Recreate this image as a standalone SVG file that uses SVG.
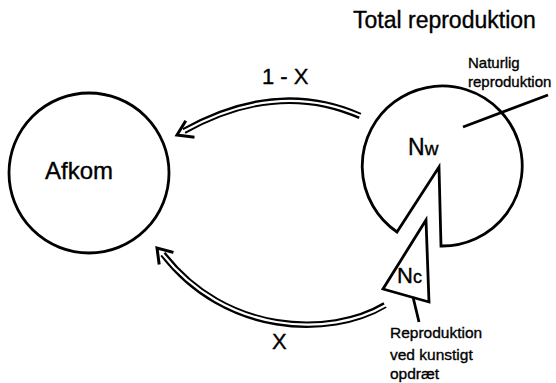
<svg xmlns="http://www.w3.org/2000/svg" width="556" height="383" viewBox="0 0 556 383">
<style>
.ln{fill:none;stroke:#000;stroke-width:2.8;stroke-linejoin:miter}
.t{font-family:"Liberation Sans",Arial,sans-serif;fill:#000;stroke:#000;stroke-width:0.35}
.dbl{fill:none;stroke:#000;stroke-width:6.5}
.dbi{fill:none;stroke:#fff;stroke-width:2.2}
.head{fill:none;stroke:#000;stroke-width:3;stroke-linecap:square}
</style>
<rect width="556" height="383" fill="#fff"/>
<text class="t" x="353" y="28" font-size="23">Total reproduktion</text>
<g id="afkom">
<circle class="ln" cx="89" cy="173" r="80"/>
<text class="t" x="79" y="179" font-size="24" text-anchor="middle">Afkom</text>
</g>
<g id="nw">
<path class="ln" d="M397,232 L439,167 L441,246 A80,80 0 1 0 397,232 Z"/>
<text class="t" x="408" y="155" font-size="23">N<tspan font-size="19">w</tspan></text>
</g>
<g id="nc">
<path class="ln" d="M426,220 L383,289 L429,302 Z"/>
<text class="t" x="397" y="283" font-size="22">N<tspan font-size="18">c</tspan></text>
</g>
<g id="labels">
<text class="t" x="468" y="68" font-size="15">Naturlig</text>
<text class="t" x="468" y="87" font-size="15">reproduktion</text>
<path class="ln" d="M548,95 L463,127" stroke-width="2.5"/>
<path class="ln" d="M413,297 L419,322" stroke-width="2.5"/>
<text class="t" x="390" y="338" font-size="15.5">Reproduktion</text>
<text class="t" x="390" y="360" font-size="15.5">ved kunstigt</text>
<text class="t" x="390" y="379" font-size="15.5">opdræt</text>
</g>
<g id="connectors">
<path class="dbl" d="M360,116 Q277,79 184,131"/>
<path class="dbi" d="M361,116 Q277,79 182,132"/>
<path class="head" d="M193,137 L177,135 L185,122"/>
<text class="t" x="262" y="84" font-size="22">1 - X</text>
<path class="dbl" d="M385,305 C330,338 225,335 163,254"/>
<path class="dbi" d="M386,305 C330,338 225,335 161,252"/>
<path class="head" d="M172,252 L157,248 L159,263"/>
<text class="t" x="272" y="349" font-size="22">X</text>
</g>
</svg>
